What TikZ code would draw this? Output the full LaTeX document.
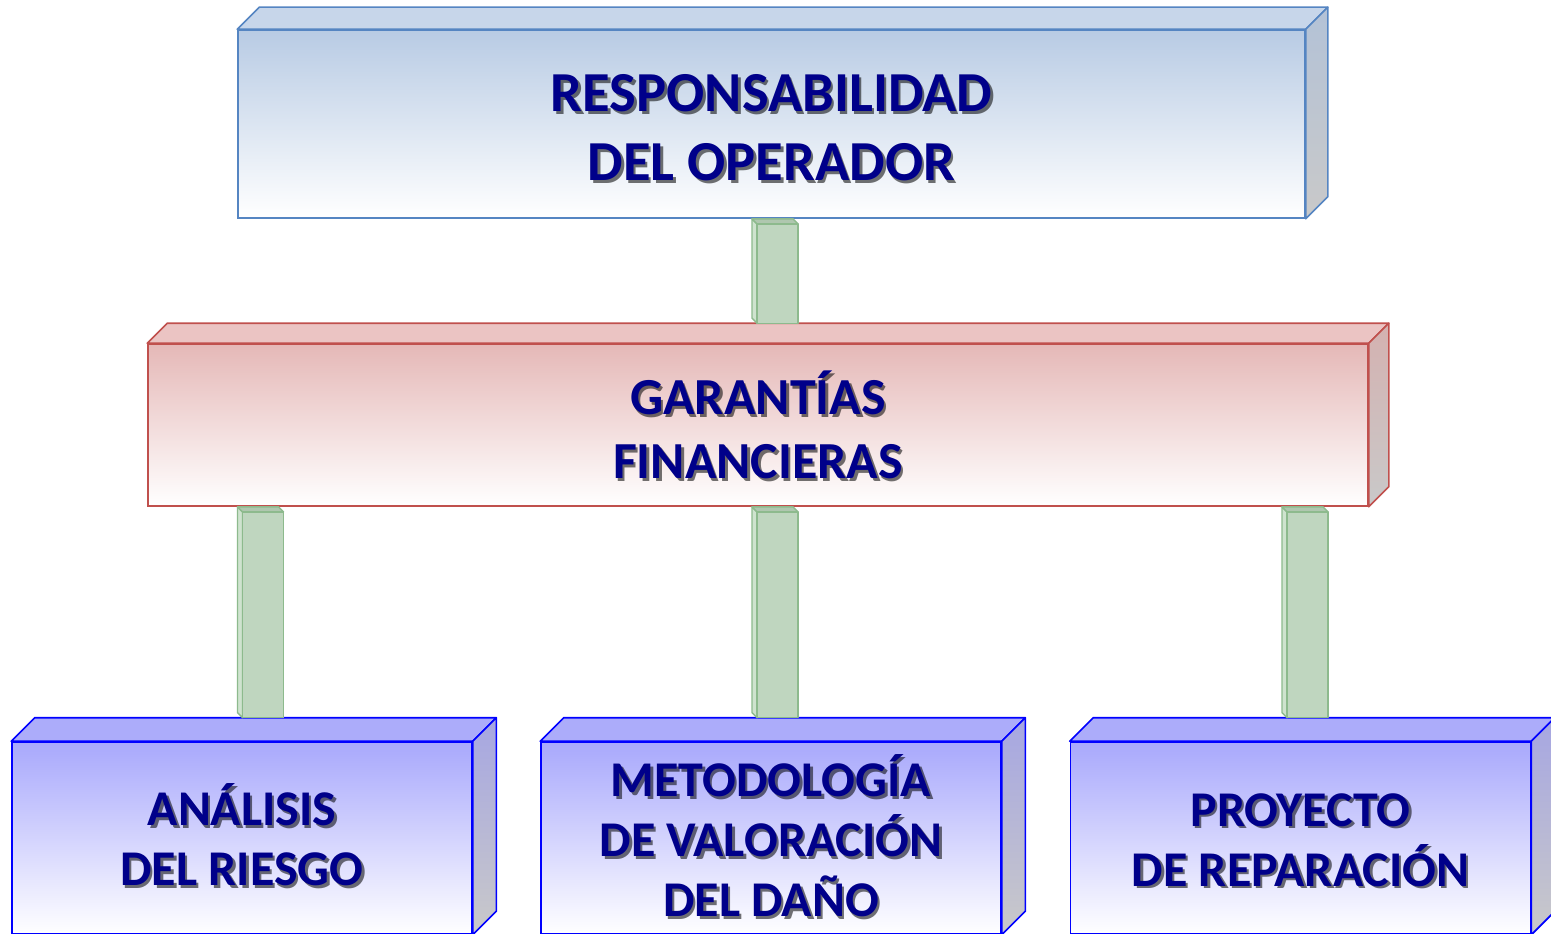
\documentclass[tikz,border=0pt]{standalone}
\usepackage{fontspec}
\setmainfont{Carlito}
\usetikzlibrary{calc}
\definecolor{topline}{HTML}{5585C2}
\definecolor{topfill}{HTML}{B8CBE4}
\definecolor{topface}{HTML}{C7D6EA}
\definecolor{topside}{HTML}{B3C2D7}
\definecolor{midline}{HTML}{C0504D}
\definecolor{midfill}{HTML}{E5B8B7}
\definecolor{midface}{HTML}{EBC4C3}
\definecolor{midside}{HTML}{D4B1B0}
\definecolor{botline}{HTML}{0000FF}
\definecolor{botfill}{HTML}{A8A8FC}
\definecolor{botface}{HTML}{ACACFA}
\definecolor{botside}{HTML}{A6A6E2}
\definecolor{sidegrey}{HTML}{C9C9C9}
\definecolor{colfill}{HTML}{BFD6BF}
\definecolor{colline}{HTML}{8DBA8D}
\definecolor{colleft}{HTML}{CFE3CF}
\definecolor{coltop}{HTML}{AFC7AF}
\definecolor{txtblue}{HTML}{00008A}
\newcommand\depthbox[6]{%
  \filldraw[draw=#2, fill=#3, line width=1.6pt, line join=round]
    (#1.north west) -- ++(#6,-#6) -- ($(#1.north east)+(#6,-#6)$) -- (#1.north east) -- cycle;
  \shadedraw[draw=#2, top color=#4, bottom color=#5, line width=1.6pt, line join=round]
    (#1.north east) -- ++(#6,-#6) -- ($(#1.south east)+(#6,-#6)$) -- (#1.south east) -- cycle;}
\newcommand\pillar[3]{%
  \filldraw[pillarline, fill=colleft] (#1.south -| #3) -- ++(5,5) -- ($(#2 -| #3)+(5,0)$) -- ($(#2 -| #3)+(0,-5)$) -- cycle;
  \filldraw[pillarline, fill=coltop] (#1.south -| #3) -- ++(41,0) -- ++(5,5) -- ++(-41,0) -- cycle;
  \filldraw[pillarline, fill=colfill] ($(#1.south -| #3)+(5,5)$) rectangle ($(#2 -| #3)+(46,0)$);}
\begin{document}
\begin{tikzpicture}[x=1pt,y=-1pt,
  pillarline/.style={draw=colline, line width=1.4pt, line join=round},
  front/.style={inner sep=0pt, line width=1.6pt, bottom color=white},
  topfront/.style={front, draw=topline, top color=topfill, bottom color=white, minimum width=1067pt, minimum height=188pt},
  midfront/.style={front, draw=midline, top color=midfill, bottom color=white, minimum width=1220pt, minimum height=162pt},
  botfront/.style={front, draw=botline, top color=botfill, bottom color=white, minimum width=460pt, minimum height=192pt},
  txt/.style={align=center, text=txtblue, font=\bfseries\fontsize{50}{60}\selectfont, inner sep=0pt},
  midtxt/.style={txt, font=\bfseries\fontsize{52}{64}\selectfont},
  bigtxt/.style={txt, font=\bfseries\fontsize{56.5}{69}\selectfont},
  shadow/.style={text=black, opacity=0.55}]
\useasboundingbox (0,0) rectangle (1551,934);
\fill[white] (0,0) rectangle (1551,934);
% boxes
\node[topfront] (top) at (771.5,124) {};
\depthbox{top}{topline}{topface}{topside}{sidegrey}{22}
\node[midfront] (mid) at (758,425) {};
\depthbox{mid}{midline}{midface}{midside}{sidegrey}{20}
\node[botfront] (b1) at (242,838) {};
\depthbox{b1}{botline}{botface}{botside}{sidegrey}{23.5}
\node[botfront] (b2) at (771,838) {};
\depthbox{b2}{botline}{botface}{botside}{sidegrey}{23.5}
\node[botfront] (b3) at (1300.5,838) {};
\depthbox{b3}{botline}{botface}{botside}{sidegrey}{23.5}
% back top edges of the lower boxes and pillar positions
\coordinate (midback) at ($(mid.north)+(0,-20)$);
\coordinate (b1back) at ($(b1.north)+(0,-23.5)$);
\coordinate (b2back) at ($(b2.north)+(0,-23.5)$);
\coordinate (b3back) at ($(b3.north)+(0,-23.5)$);
\coordinate (xc) at (752,0);
\coordinate (xl) at (237.5,0);
\coordinate (xr) at (1282,0);
% connectors
\pillar{top}{midback}{xc}
\pillar{mid}{b1back}{xl}
\pillar{mid}{b2back}{xc}
\pillar{mid}{b3back}{xr}
% texts
\node[bigtxt, shadow] (ts) at ($(top.center)+(2.5,6.5)$) {RESPONSABILIDAD\\DEL OPERADOR};
\node[bigtxt] (tt) at ($(top.center)+(0,4)$) {RESPONSABILIDAD\\DEL OPERADOR};
\node[midtxt, shadow] (ms) at ($(mid.center)+(2.5,2.5)$) {GARANTÍAS\\FINANCIERAS};
\node[midtxt] (mt) at (mid.center) {GARANTÍAS\\FINANCIERAS};
\node[txt, shadow] (b1s) at ($(b1.center)+(2.5,-0.5)$) {ANÁLISIS\\DEL RIESGO};
\node[txt] (b1t) at ($(b1.center)+(0,-3)$) {ANÁLISIS\\DEL RIESGO};
\node[txt, shadow] (b2s) at ($(b2.center)+(2.5,0.5)$) {METODOLOGÍA\\DE VALORACIÓN\\DEL DAÑO};
\node[txt] (b2t) at ($(b2.center)+(0,-2)$) {METODOLOGÍA\\DE VALORACIÓN\\DEL DAÑO};
\node[txt, shadow] (b3s) at ($(b3.center)+(2.5,4.5)$) {PROYECTO\\DE REPARACIÓN};
\node[txt] (b3t) at ($(b3.center)+(0,2)$) {PROYECTO\\DE REPARACIÓN};
\end{tikzpicture}
\end{document}
